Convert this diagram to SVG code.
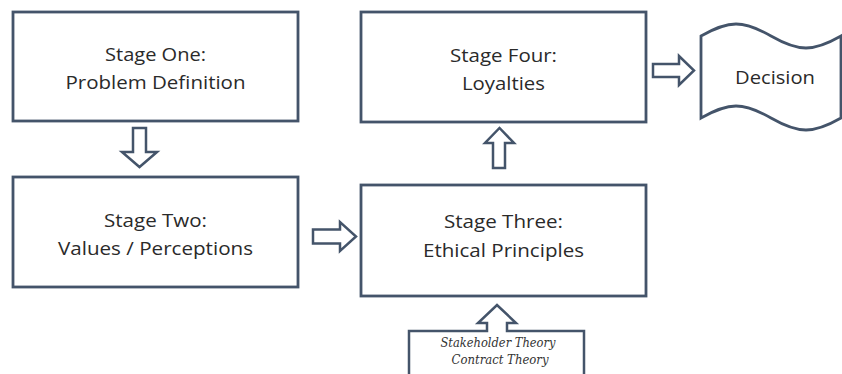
<svg xmlns="http://www.w3.org/2000/svg" width="842" height="374" viewBox="0 0 842 374">
  <style>
    .box { fill: #ffffff; stroke: #44546A; stroke-width: 2.8; }
    .arrow { fill: #ffffff; stroke: #44546A; stroke-width: 2.5; stroke-linejoin: miter; }
    .lbl { font-family: "Open Sans", Lato, "Liberation Sans", sans-serif; font-size: 18.5px; fill: #2a2a2a; text-anchor: middle; }
    .note { font-family: "DejaVu Serif", "Liberation Serif", serif; font-style: italic; font-size: 12.5px; fill: #333333; text-anchor: middle; }
  </style>
  <rect width="842" height="374" fill="#ffffff"/>

  <g id="connectors">
    <!-- Stage One -> Stage Two (down) -->
    <path class="arrow" d="M133,128 L146,128 L146,152 L157,152 L139.5,167 L122,152 L133,152 Z"/>
    <!-- Stage Two -> Stage Three (right) -->
    <path class="arrow" d="M313,229.5 L340,229.5 L340,222 L356,236.5 L340,251 L340,243.5 L313,243.5 Z"/>
    <!-- Stage Three -> Stage Four (up) -->
    <path class="arrow" d="M493,168 L505,168 L505,143 L514,143 L499.5,128 L485,143 L493,143 Z"/>
    <!-- Stage Four -> Decision (right) -->
    <path class="arrow" d="M653,64 L679,64 L679,56 L694,70.5 L679,85 L679,77 L653,77 Z"/>
  </g>

  <g id="stage-one">
    <rect class="box" x="13" y="12" width="285" height="109"/>
    <text class="lbl" x="155.5" y="61" textLength="101" lengthAdjust="spacingAndGlyphs">Stage One:</text>
    <text class="lbl" x="155.5" y="89" textLength="180" lengthAdjust="spacingAndGlyphs">Problem Definition</text>
  </g>

  <g id="stage-two">
    <rect class="box" x="13" y="177" width="285" height="110"/>
    <text class="lbl" x="155.5" y="227" textLength="103" lengthAdjust="spacingAndGlyphs">Stage Two:</text>
    <text class="lbl" x="155.5" y="255" textLength="195" lengthAdjust="spacingAndGlyphs">Values / Perceptions</text>
  </g>

  <g id="stage-three">
    <rect class="box" x="361" y="185" width="285" height="111"/>
    <text class="lbl" x="503.5" y="228" textLength="119" lengthAdjust="spacingAndGlyphs">Stage Three:</text>
    <text class="lbl" x="503.5" y="257" textLength="161" lengthAdjust="spacingAndGlyphs">Ethical Principles</text>
  </g>

  <g id="stage-four">
    <rect class="box" x="361" y="12" width="285" height="110"/>
    <text class="lbl" x="503.5" y="62" textLength="107" lengthAdjust="spacingAndGlyphs">Stage Four:</text>
    <text class="lbl" x="503.5" y="90" textLength="83" lengthAdjust="spacingAndGlyphs">Loyalties</text>
  </g>

  <g id="decision">
    <path class="box" d="M701,36 C729,20 743,20 771,36 C799,52 813,52 841,36 L841,118 C813,134 799,134 771,118 C743,102 729,102 701,118 Z"/>
    <text class="lbl" x="775" y="84" textLength="80" lengthAdjust="spacingAndGlyphs">Decision</text>
  </g>

  <g id="theories">
    <path class="arrow" d="M409,380 L409,331 L487,331 L487,323 L478,323 L497,305 L516,323 L507,323 L507,331 L584,331 L584,380 Z"/>
    <text class="note" x="498" y="347" textLength="115" lengthAdjust="spacingAndGlyphs">Stakeholder Theory</text>
    <text class="note" x="500" y="364" textLength="97" lengthAdjust="spacingAndGlyphs">Contract Theory</text>
  </g>
</svg>
